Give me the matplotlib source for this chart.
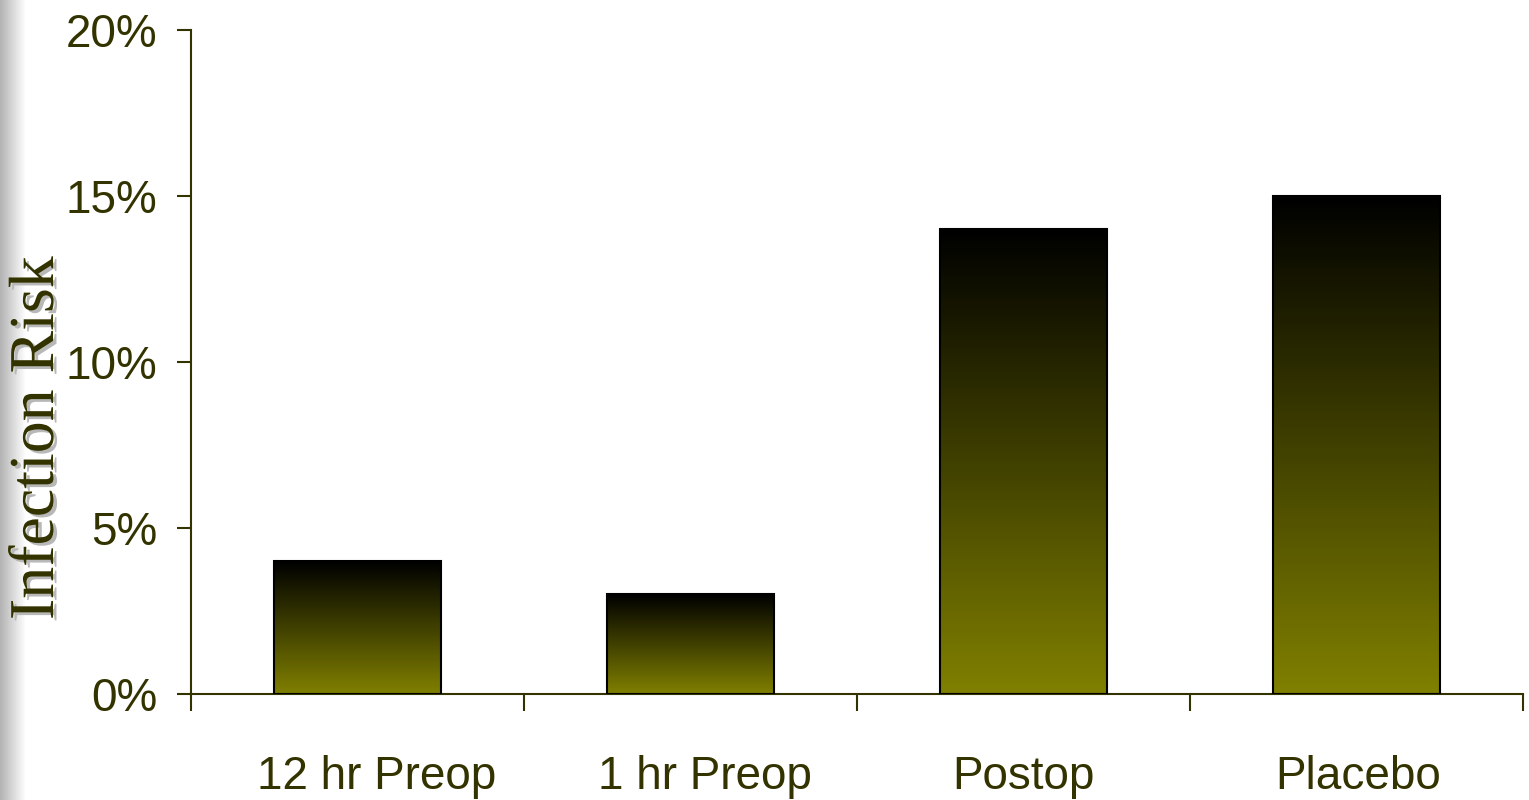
import numpy as np
import matplotlib
matplotlib.use("Agg")
import matplotlib.pyplot as plt
from matplotlib.colors import LinearSegmentedColormap
from matplotlib.transforms import ScaledTranslation
import matplotlib.patheffects as pe

# data
categories = ["12 hr Preop", "1 hr Preop", "Postop", "Placebo"]
risk = [4, 3, 14, 15]          # percent
yticks = [0, 5, 10, 15, 20]
ytick_labels = ["0%", "5%", "10%", "15%", "20%"]

text_col = "#333300"
sans = ["Liberation Sans", "DejaVu Sans"]
serif = ["Liberation Serif", "DejaVu Serif"]

fig = plt.figure(figsize=(15.29, 8), dpi=100)

# grey strip along left edge
bg = fig.add_axes([0, 0, 26 / 1529, 1])
strip = np.linspace(0.70, 1.0, 64).reshape(1, -1)
bg.imshow(strip, cmap="gray", vmin=0, vmax=1, aspect="auto")
bg.axis("off")

ax = fig.add_axes([191 / 1529, 1 - 694 / 800, 1332 / 1529, 664 / 800])

x = np.arange(len(categories))
width = 0.5
cmap = LinearSegmentedColormap.from_list("olive", ["#000000", "#808000"])
grad = np.linspace(1, 0, 256).reshape(-1, 1)

bars = ax.bar(x, risk, width=width, facecolor="none", edgecolor="black",
              linewidth=1.5, zorder=3)
for b in bars:
    x0 = b.get_x()
    h = b.get_height()
    im = ax.imshow(grad, cmap=cmap, vmin=0, vmax=1, aspect="auto",
                   origin="lower", extent=[x0, x0 + width, 0, h], zorder=2)
    im.set_clip_path(b)

ax.set_xlim(-0.5, len(categories) - 0.5)
ax.set_ylim(0, 20)

ax.set_yticks(yticks)
ax.set_yticklabels(ytick_labels, fontfamily=sans, fontsize=33, color=text_col)
ax.set_xticks(x)
ax.set_xticklabels(categories, fontfamily=sans, fontsize=33, color=text_col)
ax.tick_params(axis="x", length=0, pad=44)
ax.set_xticks(np.arange(-0.5, len(categories)), minor=True)
ax.tick_params(axis="x", which="minor", length=12, width=1.5, color=text_col)
ax.tick_params(axis="y", length=10, width=1.5, color=text_col, pad=14)

# the first two labels sit a little right of their bars in the original
shifts = [0.19, 0.14, 0.0, 0.02]
for lbl, dx in zip(ax.get_xticklabels(), shifts):
    lbl.set_transform(lbl.get_transform() + ScaledTranslation(dx, 0, fig.dpi_scale_trans))

for s in ["top", "right"]:
    ax.spines[s].set_visible(False)
for s in ["left", "bottom"]:
    ax.spines[s].set_color(text_col)
    ax.spines[s].set_linewidth(1.5)

fig.text(38 / 1529, 1 - 438 / 800, "Infection Risk", rotation=90,
         ha="center", va="center", fontfamily=serif, fontsize=46,
         color=text_col,
         path_effects=[pe.withSimplePatchShadow(offset=(2.5, -2),
                                                shadow_rgbFace="#b8b8b8",
                                                alpha=1)])

fig.savefig("out.png", dpi=100)
